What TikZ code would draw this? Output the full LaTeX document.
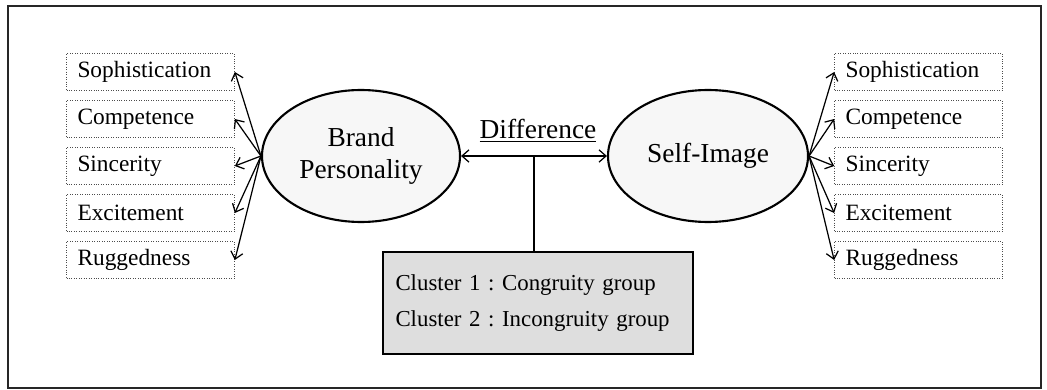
\documentclass[tikz,border=0pt]{standalone}
\usepackage{fontspec}
\setmainfont{Liberation Serif}
\frenchspacing
\usetikzlibrary{shapes,arrows,arrows.meta}

\begin{document}
\begin{tikzpicture}[
  font=\rmfamily\fontsize{13.3}{19}\selectfont,
  dim/.style={draw=black!70, densely dotted, minimum height=0.74cm, text width=2.92cm, inner xsep=0.22cm, inner ysep=0pt, align=left},
  latent/.style={ellipse, draw, line width=1.2pt, fill=black!3, minimum width=3.96cm, minimum height=2.64cm, align=center, font=\rmfamily\fontsize{15.6}{20}\selectfont},
  link/.style={->, >={Straight Barb[length=4pt,width=7pt]}, line width=0.7pt}
]

  \useasboundingbox (0,0) rectangle (20.94,-7.8);
  \draw [line width=1pt, draw=black!85] (0.16,-0.12) rectangle (20.82,-7.76);

  \node (bp) [latent] at (7.22,-3.12) {\raisebox{-2pt}{Brand}\\Personality};
  \node (si) [latent, minimum width=4cm] at (14.16,-3.12) {Self-Image};

  \node (l1) [dim] at (3.01,-1.44) {Sophistication};
  \node (l2) [dim] at (3.01,-2.38) {Competence};
  \node (l3) [dim] at (3.01,-3.32) {Sincerity};
  \node (l4) [dim] at (3.01,-4.26) {Excitement};
  \node (l5) [dim] at (3.01,-5.20) {Ruggedness};

  \node (r1) [dim] at (18.37,-1.44) {Sophistication};
  \node (r2) [dim] at (18.37,-2.38) {Competence};
  \node (r3) [dim] at (18.37,-3.32) {Sincerity};
  \node (r4) [dim] at (18.37,-4.26) {Excitement};
  \node (r5) [dim] at (18.37,-5.20) {Ruggedness};

  \node (diff) [font=\rmfamily\fontsize{15.6}{20}\selectfont] at (10.76,-2.62) {\underline{Difference}};
  \node (cl) [draw, line width=0.7pt, fill=black!13, text width=5.7cm, inner xsep=0.25cm, minimum height=2.04cm, align=left, font=\rmfamily\fontsize{13}{19}\selectfont] at (10.76,-6.06)
    {Cluster 1 : Congruity group\\[2pt]Cluster 2 : Incongruity group\\[2pt]};

  \draw [link] (bp.west) -- (l1.east);
  \draw [link] (bp.west) -- (l2.east);
  \draw [link] (bp.west) -- (l3.east);
  \draw [link] (bp.west) -- (l4.east);
  \draw [link] (bp.west) -- (l5.east);

  \draw [link] (si.east) -- (r1.west);
  \draw [link] (si.east) -- (r2.west);
  \draw [link] (si.east) -- (r3.west);
  \draw [link] (si.east) -- (r4.west);
  \draw [link] (si.east) -- (r5.west);

  \draw [link, <->] (bp.east) -- coordinate (mid) (si.west);
  \draw [line width=0.7pt] (mid) -- (mid |- cl.north);

\end{tikzpicture}
\end{document}
